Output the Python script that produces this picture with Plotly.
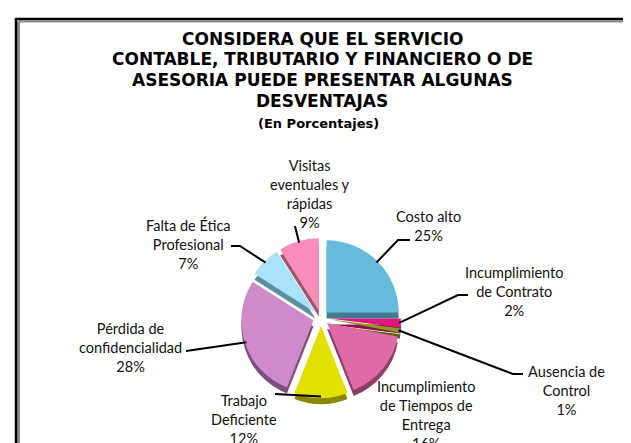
import math
import plotly.graph_objects as go

# ---------------- data ----------------
categories = [
    "Costo alto",
    "Incumplimiento de Contrato",
    "Ausencia de Control",
    "Incumplimiento de Tiempos de Entrega",
    "Trabajo Deficiente",
    "Pérdida de confidencialidad",
    "Falta de Ética Profesional",
    "Visitas eventuales y rápidas",
]
values = [25, 2, 1, 16, 12, 28, 7, 9]
label_lines = [
    ["Costo alto"],
    ["Incumplimiento", "de Contrato"],
    ["Ausencia de", "Control"],
    ["Incumplimiento", "de Tiempos de", "Entrega"],
    ["Trabajo", "Deficiente"],
    ["Pérdida de", "confidencialidad"],
    ["Falta de Ética", "Profesional"],
    ["Visitas", "eventuales y", "rápidas"],
]
title_lines = [
    "CONSIDERA QUE EL SERVICIO",
    "CONTABLE, TRIBUTARIO Y FINANCIERO O DE",
    "ASESORIA PUEDE PRESENTAR ALGUNAS",
    "DESVENTAJAS",
]
subtitle = "(En Porcentajes)"

# ---------------- style ----------------
colors = ["#66BBDD", "#E0177F", "#8A9A1A", "#DE6BA6", "#E2E000", "#CE8ACB", "#A9E2FA", "#F78DB8"]
side_colors = ["#3F7E92", "#8E0E50", "#55600E", "#8E3F68", "#8A8800", "#7E4F7C", "#5E8E9E", "#9E5570"]

W, H = 631, 443
PULL = 0.11
CX, CY, BOX = 313, 310, 160
DEPTH = 6

def px(x, y):
    return x / W, 1 - y / H

def dom(cx, cy):
    return dict(x=[(cx - BOX / 2) / W, (cx + BOX / 2) / W],
                y=[1 - (cy + BOX / 2) / H, 1 - (cy - BOX / 2) / H])

fig = go.Figure()
common = dict(labels=categories, values=values, sort=False, direction="clockwise",
              rotation=0, pull=[PULL] * len(values), textinfo="none",
              showlegend=False)
fig.add_trace(go.Pie(domain=dom(CX, CY + DEPTH), marker=dict(colors=side_colors, line=dict(width=0)),
                     hoverinfo="skip", **common))
fig.add_trace(go.Pie(domain=dom(CX, CY), marker=dict(colors=colors, line=dict(width=0)),
                     hovertemplate="%{label}: %{value}%<extra></extra>", **common))

# label positions (text block centres, px) and leader elbows
label_pos = [(420, 218), (506, 283), (558, 382), (418, 407), (236, 411), (122, 339), (180, 236), (302, 186)]
elbows = [
    [(402, 232), (390, 232)],
    [(460, 287), (450, 287)],
    [(515, 366), (505, 366)],
    None,
    [(267, 386)],
    [(178, 343)],
    [(223, 238), (232, 238)],
    [(287, 218)],
]

r = BOX / (2 + 2 * PULL)
total = sum(values)
cum = 0
annotations = []
shapes = []
for i, v in enumerate(values):
    mid = (cum + v / 2) / total * 2 * math.pi
    cum += v
    ex = CX + r * (1 + PULL) * math.sin(mid) * 0.98
    ey = CY - r * (1 + PULL) * math.cos(mid) * 0.98
    lx, ly = label_pos[i]
    text = "<br>".join(label_lines[i] + [f"{v}%"])
    x, y = px(lx, ly)
    annotations.append(dict(x=x, y=y, xref="paper", yref="paper", text=text, showarrow=False,
                            xanchor="center", yanchor="middle", align="center",
                            font=dict(family="Lato, Open Sans, sans-serif", size=14.5, color="#111111")))
    if elbows[i]:
        pts = elbows[i] + [(ex, ey)]
        path = "M " + " L ".join(f"{px(a, b)[0]:.5f},{px(a, b)[1]:.5f}" for a, b in pts)
        shapes.append(dict(type="path", path=path, xref="paper", yref="paper",
                           line=dict(color="black", width=2)))

# title lines
ty = [31, 51, 72, 93]
for t, yy in zip(title_lines, ty):
    x, y = px(314, yy)
    annotations.append(dict(x=x, y=y, xref="paper", yref="paper", text=f"<b>{t}</b>", showarrow=False,
                            xanchor="center", yanchor="middle",
                            font=dict(family="DejaVu Sans, sans-serif", size=17, color="black")))
x, y = px(310, 115)
annotations.append(dict(x=x, y=y, xref="paper", yref="paper", text=f"<b>{subtitle}</b>", showarrow=False,
                        xanchor="center", yanchor="middle",
                        font=dict(family="DejaVu Sans, sans-serif", size=13, color="black")))

# frame
def seg(x0, y0, x1, y1, color, width):
    a = px(x0, y0); b = px(x1, y1)
    return dict(type="line", xref="paper", yref="paper", x0=a[0], y0=a[1], x1=b[0], y1=b[1],
                line=dict(color=color, width=width))

shapes += [
    seg(10.5, 13.5, 10.5, 460, "#8C8C8C", 3),
    seg(10.5, 13.5, 650, 13.5, "#8C8C8C", 2),
    seg(8, 11, 8, 460, "black", 2.5),
    seg(6.8, 11, 650, 11, "black", 2.5),
]

fig.update_layout(width=W, height=H, margin=dict(l=0, r=0, t=0, b=0),
                  paper_bgcolor="white", plot_bgcolor="white",
                  annotations=annotations, shapes=shapes)
fig.write_html("out.html")
